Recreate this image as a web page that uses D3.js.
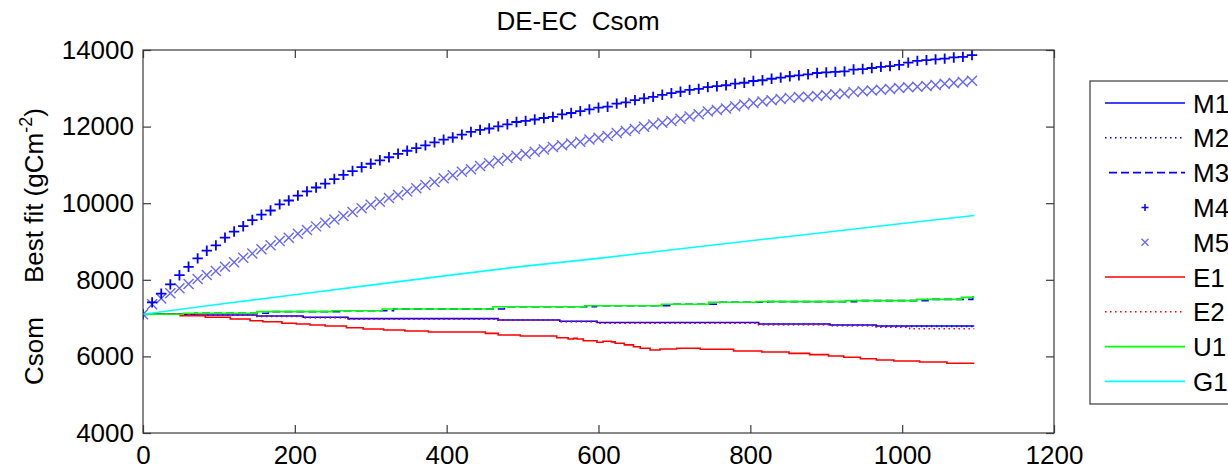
<!DOCTYPE html>
<html>
<head>
<meta charset="utf-8">
<script src="https://cdn.jsdelivr.net/npm/d3@7"></script>
<style>
  body { margin: 0; background: #fff; }
  text { font-family: "Liberation Sans", Arial, sans-serif; }
</style>
</head>
<body>
<div id="grafico"></div>
<script>
// Datos
const titulo = "DE-EC  Csom";
const nombresSeries = ["M1", "M2", "M3", "M4", "M5", "E1", "E2", "U1", "G1"];
const ticksX = [0, 200, 400, 600, 800, 1000, 1200];
const ticksY = [4000, 6000, 8000, 10000, 12000, 14000];

// M4 y M5 se marcan cada 12 dias
const diasMarcador = d3.range(0, 1093, 12);
const m4 = [
  7100, 7410, 7640, 7880, 8120, 8340, 8560, 8760, 8900, 9100,
  9260, 9400, 9560, 9700, 9810, 9970, 10070, 10200, 10310, 10410,
  10510, 10630, 10740, 10840, 10940, 11030, 11120, 11200, 11290, 11370,
  11440, 11510, 11590, 11660, 11715, 11790, 11860, 11915, 11950, 12005,
  12060, 12120, 12150, 12185, 12225, 12255, 12320, 12355, 12405, 12450,
  12495, 12520, 12600, 12630, 12690, 12735, 12775, 12830, 12875, 12910,
  12960, 12985, 13030, 13055, 13080, 13120, 13145, 13190, 13210, 13250,
  13280, 13315, 13340, 13365, 13400, 13415, 13430, 13442, 13490, 13502,
  13530, 13560, 13580, 13610, 13670, 13715, 13735, 13755, 13775, 13805,
  13820, 13865
];
const m5 = [
  7100, 7360, 7510, 7650, 7780, 7890, 8020, 8125, 8230, 8343,
  8460, 8577, 8685, 8796, 8900, 9013, 9100, 9205, 9300, 9395,
  9491, 9575, 9666, 9770, 9867, 9960, 10040, 10135, 10214, 10308,
  10389, 10475, 10555, 10650, 10730, 10823, 10885, 10971, 11041, 11110,
  11180, 11240, 11285, 11345, 11405, 11465, 11515, 11560, 11605, 11665,
  11710, 11755, 11835, 11885, 11940, 11993, 12055, 12100, 12145, 12205,
  12265, 12320, 12395, 12433, 12473, 12530, 12580, 12615, 12655, 12690,
  12720, 12750, 12775, 12780, 12799, 12822, 12847, 12865, 12900, 12925,
  12945, 12962, 12980, 13006, 13030, 13043, 13060, 13084, 13120, 13140,
  13162, 13195
];

// Series escalonadas: dia donde cambia el valor y el valor nuevo
const diasM1 = [0, 53, 150, 211, 270, 468, 549, 598, 811, 905, 966, 1095];
const m1 = [7100, 7080, 7055, 7021, 6986, 6952, 6916, 6885, 6846, 6820, 6794, 6794];
const diasM2 = [0, 53, 150, 211, 270, 468, 549, 598, 811, 905, 966, 1095];
const m2 = [7100, 7075, 7045, 7015, 6980, 6945, 6910, 6875, 6835, 6810, 6785, 6780];
const diasM3 = [0, 68, 165, 264, 330, 476, 597, 698, 760, 823, 940, 1034, 1093, 1095];
const m3 = [7100, 7125, 7170, 7190, 7237, 7298, 7324, 7360, 7412, 7429, 7455, 7490, 7542, 7542];
const diasE1 = [0, 49, 82, 115, 141, 158, 183, 202, 220, 240, 268, 290, 317, 345, 376, 451, 468, 497,
  545, 560, 567, 572, 580, 598, 606, 617, 622, 634, 646, 655, 668, 681, 703, 734, 778, 815, 851,
  878, 903, 923, 945, 966, 989, 1023, 1059, 1095];
const e1 = [7100, 7063, 7021, 6977, 6932, 6906, 6864, 6846, 6820, 6794, 6750, 6716, 6690, 6663, 6637, 6602, 6559, 6533,
  6488, 6454, 6470, 6454, 6410, 6368, 6394, 6380, 6342, 6300, 6253, 6212, 6167, 6193, 6212, 6185, 6141, 6115, 6080,
  6046, 6010, 5976, 5940, 5906, 5880, 5854, 5820, 5820];
const diasE2 = [0, 53, 150, 211, 270, 468, 549, 598, 811, 905, 966, 1010, 1095];
const e2 = [7100, 7080, 7050, 7010, 6975, 6945, 6905, 6870, 6830, 6800, 6760, 6720, 6720];
const diasU1 = [0, 53, 150, 249, 315, 461, 582, 683, 745, 808, 925, 1019, 1078, 1095];
const u1 = [7100, 7125, 7170, 7190, 7237, 7298, 7324, 7360, 7412, 7429, 7455, 7490, 7542, 7542];
const diasG1 = [0, 100, 200, 300, 400, 500, 600, 700, 800, 900, 1000, 1095];
const g1 = [7100, 7360, 7610, 7860, 8110, 8350, 8560, 8790, 9020, 9240, 9470, 9680];

const ancho = 1228, alto = 470;
const caja = { izq: 143, der: 1054, arriba: 50, abajo: 433 };
const azul = "#0000ff", rojo = "#ff0000", verde = "#00ff00", cian = "#00ffff";
const colorEje = "#3a3a3a";

const svg = d3.select("#grafico").append("svg")
  .attr("width", ancho)
  .attr("height", alto);

const x = d3.scaleLinear().domain([0, 1200]).range([caja.izq, caja.der]);
const y = d3.scaleLinear().domain([4000, 14000]).range([caja.abajo, caja.arriba]);

svg.append("clipPath").attr("id", "recorte")
  .append("rect")
  .attr("x", caja.izq).attr("y", caja.arriba)
  .attr("width", caja.der - caja.izq).attr("height", caja.abajo - caja.arriba);

const zona = svg.append("g").attr("clip-path", "url(#recorte)");

function juntar(dias, valores) {
  return dias.map((d, i) => ({ x: d, y: valores[i] }));
}

function dibujarEscalon(dias, valores, color, trazo) {
  const linea = d3.line()
    .x(d => x(d.x))
    .y(d => y(d.y))
    .curve(d3.curveStepAfter);
  zona.append("path")
    .datum(juntar(dias, valores))
    .attr("d", linea)
    .attr("fill", "none")
    .attr("stroke", color)
    .attr("stroke-width", 1.6)
    .attr("stroke-dasharray", trazo);
}

function simboloMas(g, cx, cy, r, color, grosor) {
  g.append("path")
    .attr("d", `M${cx - r},${cy}H${cx + r}M${cx},${cy - r}V${cy + r}`)
    .attr("stroke", color).attr("stroke-width", grosor).attr("fill", "none");
}

function simboloCruz(g, cx, cy, r, color, grosor) {
  g.append("path")
    .attr("d", `M${cx - r},${cy - r}L${cx + r},${cy + r}M${cx - r},${cy + r}L${cx + r},${cy - r}`)
    .attr("stroke", color).attr("stroke-width", grosor).attr("fill", "none");
}

// orden de dibujo como en el original
dibujarEscalon(diasM1, m1, azul, null);
dibujarEscalon(diasM2, m2, azul, "1.5,3.5");
dibujarEscalon(diasM3, m3, azul, "8,4");

const gM4 = zona.append("g");
diasMarcador.forEach((d, i) => simboloMas(gM4, x(d), y(m4[i]), 5.2, azul, 1.8));
const gM5 = zona.append("g").attr("opacity", 0.6);
diasMarcador.forEach((d, i) => simboloCruz(gM5, x(d), y(m5[i]), 5, azul, 1.4));

dibujarEscalon(diasE1, e1, rojo, null);
dibujarEscalon(diasE2, e2, rojo, "1.5,3.5");
dibujarEscalon(diasU1, u1, verde, null);

zona.append("path")
  .datum(juntar(diasG1, g1))
  .attr("d", d3.line().x(d => x(d.x)).y(d => y(d.y)))
  .attr("fill", "none")
  .attr("stroke", cian)
  .attr("stroke-width", 1.6);

// Ejes con marcas hacia dentro
const ejeX = svg.append("g")
  .attr("transform", `translate(0,${caja.abajo})`)
  .call(d3.axisBottom(x).tickValues(ticksX).tickSize(-8).tickPadding(13).tickFormat(d3.format("d")));
const ejeY = svg.append("g")
  .attr("transform", `translate(${caja.izq},0)`)
  .call(d3.axisLeft(y).tickValues(ticksY).tickSize(-8).tickPadding(9).tickFormat(d3.format("d")));
const ejeArriba = svg.append("g")
  .attr("transform", `translate(0,${caja.arriba})`)
  .call(d3.axisTop(x).tickValues(ticksX).tickSize(-8).tickFormat(""));
const ejeDer = svg.append("g")
  .attr("transform", `translate(${caja.der},0)`)
  .call(d3.axisRight(y).tickValues(ticksY).tickSize(-8).tickFormat(""));

[ejeX, ejeY, ejeArriba, ejeDer].forEach(g => {
  g.select(".domain").remove();
  g.selectAll(".tick line").attr("stroke", colorEje).attr("stroke-width", 1.2);
  g.selectAll(".tick text").attr("fill", "#000").style("font-size", "26px")
    .style("font-family", "'Liberation Sans', Arial, sans-serif");
});

svg.append("rect")
  .attr("x", caja.izq).attr("y", caja.arriba)
  .attr("width", caja.der - caja.izq).attr("height", caja.abajo - caja.arriba)
  .attr("fill", "none").attr("stroke", colorEje).attr("stroke-width", 1.2);

// Titulo
svg.append("text")
  .attr("x", 578).attr("y", 30)
  .attr("text-anchor", "middle")
  .style("font-size", "26px")
  .style("white-space", "pre")
  .text(titulo);

// Etiqueta del eje Y
const etiqueta = svg.append("text")
  .attr("transform", "translate(43,385) rotate(-90)")
  .style("font-size", "26px");
etiqueta.append("tspan").text("Csom");
etiqueta.append("tspan").attr("dx", 34).text("Best fit (gCm");
etiqueta.append("tspan").attr("dy", -11).style("font-size", "18px").text("-2");
etiqueta.append("tspan").attr("dy", 11).text(")");

// Leyenda
const leyenda = svg.append("g");
leyenda.append("rect")
  .attr("x", 1090).attr("y", 81)
  .attr("width", 170).attr("height", 323)
  .attr("fill", "#fff").attr("stroke", colorEje).attr("stroke-width", 1.2);

const estilos = [
  { color: azul, trazo: null, tipo: "linea" },
  { color: azul, trazo: "1.5,3.5", tipo: "linea" },
  { color: azul, trazo: "8,4", tipo: "linea" },
  { color: azul, tipo: "mas" },
  { color: azul, tipo: "cruz" },
  { color: rojo, trazo: null, tipo: "linea" },
  { color: rojo, trazo: "1.5,3.5", tipo: "linea" },
  { color: verde, trazo: null, tipo: "linea" },
  { color: cian, trazo: null, tipo: "linea" }
];

nombresSeries.forEach((nombre, i) => {
  const cy = 103 + i * 34.8;
  const e = estilos[i];
  if (e.tipo === "linea") {
    leyenda.append("line")
      .attr("x1", e.trazo === "8,4" ? 1109 : 1105).attr("x2", 1185)
      .attr("y1", cy).attr("y2", cy)
      .attr("stroke", e.color).attr("stroke-width", 1.6)
      .attr("stroke-dasharray", e.trazo);
  } else if (e.tipo === "mas") {
    simboloMas(leyenda, 1145, cy, 3.5, e.color, 1.5);
  } else {
    simboloCruz(leyenda.append("g").attr("opacity", 0.6), 1145, cy, 3.5, e.color, 1.3);
  }
  leyenda.append("text")
    .attr("x", 1193).attr("y", cy + 9.5)
    .style("font-size", "26px")
    .text(nombre);
});
</script>
</body>
</html>
